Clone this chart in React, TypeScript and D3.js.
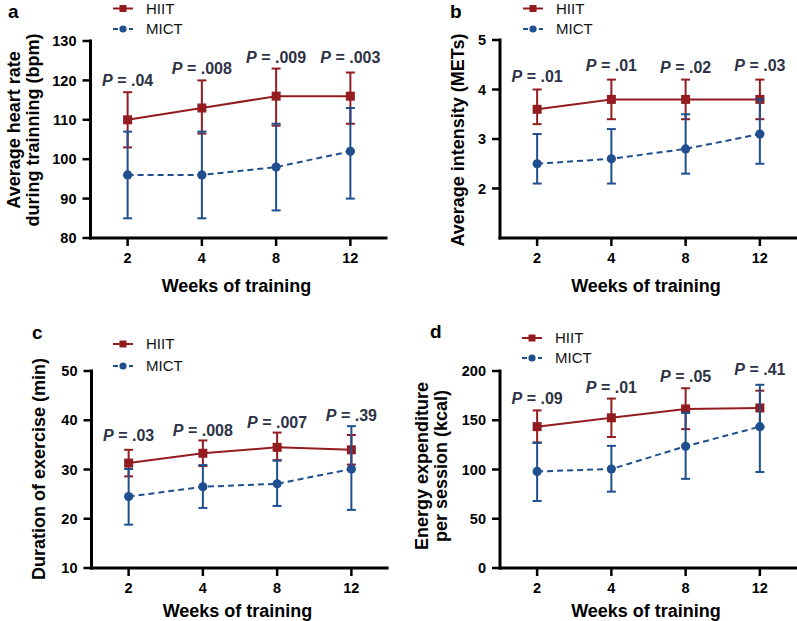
import React from "react";
import * as d3 from "d3";

// ---------- DATA ----------
const weeks = ["2", "4", "8", "12"];
const seriesNames = ["HIIT", "MICT"];

// a: Average heart rate (bpm)
const hrHIIT = [110, 113, 116, 116];
const hrHIITLow = [103, 106.5, 108.5, 109];
const hrHIITHigh = [117, 120, 123, 122];
const hrMICT = [96, 96, 98, 102];
const hrMICTLow = [85, 85, 87, 90];
const hrMICTHigh = [107, 107, 109, 113];
const hrP = ["P = .04", "P = .008", "P = .009", "P = .003"];
const hrPAt = [118.7, 121.6, 124.3, 124.3];
const hrTicks = [80, 90, 100, 110, 120, 130];

// b: Average intensity (METs)
const metHIIT = [3.6, 3.8, 3.8, 3.8];
const metHIITLow = [3.3, 3.4, 3.4, 3.4];
const metHIITHigh = [4.0, 4.2, 4.2, 4.2];
const metMICT = [2.5, 2.6, 2.8, 3.1];
const metMICTLow = [2.1, 2.1, 2.3, 2.5];
const metMICTHigh = [3.1, 3.2, 3.5, 3.8];
const metP = ["P = .01", "P = .01", "P = .02", "P = .03"];
const metPAt = [4.16, 4.38, 4.33, 4.38];
const metTicks = [2, 3, 4, 5];

// c: Duration of exercise (min)
const durHIIT = [31.3, 33.3, 34.5, 34.0];
const durHIITLow = [28.6, 30.7, 31.9, 31.0];
const durHIITHigh = [34.0, 35.9, 37.5, 37.0];
const durMICT = [24.5, 26.5, 27.1, 30.1];
const durMICTLow = [18.8, 22.2, 22.6, 21.8];
const durMICTHigh = [30.1, 30.9, 31.8, 38.8];
const durP = ["P = .03", "P = .008", "P = .007", "P = .39"];
const durPAt = [35.8, 36.8, 38.4, 39.8];
const durTicks = [10, 20, 30, 40, 50];

// d: Energy expenditure per session (kcal)
const eeHIIT = [143.5, 152.5, 161.5, 162.5];
const eeHIITLow = [127.5, 133, 141, 143];
const eeHIITHigh = [160, 172, 182.5, 180];
const eeMICT = [98, 100.5, 123.5, 143.5];
const eeMICTLow = [68, 77.5, 90.5, 97.5];
const eeMICTHigh = [127, 124, 157.5, 186];
const eeP = ["P = .09", "P = .01", "P = .05", "P = .41"];
const eePAt = [167, 178, 188.5, 196];
const eeTicks = [0, 50, 100, 150, 200];

// ---------- STYLE ----------
const RED = "#931c20";
const BLUE = "#1f4f8e";
const PCOL = "#2d3345";
const FONT = "'Liberation Sans', Arial, Helvetica, sans-serif";

type Panel = {
  letter: string;
  ox: number; top: number; bottom: number; width: number;
  domain: [number, number]; ticks: number[];
  hiit: number[]; hiitLow: number[]; hiitHigh: number[];
  mict: number[]; mictLow: number[]; mictHigh: number[];
  pLabels: string[]; pAt: number[];
  yTitle: string[]; yTitleX: number[]; yTitleCy: number;
  xTitleY: number;
  legend: { x: number; y1: number; y2: number };
  label: { x: number; y: number };
};

const panels: Panel[] = [
  {
    letter: "a", ox: 90.5, top: 41, bottom: 238, width: 297,
    domain: [80, 130], ticks: hrTicks,
    hiit: hrHIIT, hiitLow: hrHIITLow, hiitHigh: hrHIITHigh,
    mict: hrMICT, mictLow: hrMICTLow, mictHigh: hrMICTHigh,
    pLabels: hrP, pAt: hrPAt,
    yTitle: ["Average heart rate", "during trainning (bpm)"], yTitleX: [20, 39], yTitleCy: 130,
    xTitleY: 292,
    legend: { x: 113, y1: 8.5, y2: 29 }, label: { x: 8, y: 17.5 },
  },
  {
    letter: "b", ox: 500, top: 40, bottom: 238, width: 297,
    domain: [1, 5], ticks: metTicks,
    hiit: metHIIT, hiitLow: metHIITLow, hiitHigh: metHIITHigh,
    mict: metMICT, mictLow: metMICTLow, mictHigh: metMICTHigh,
    pLabels: metP, pAt: metPAt,
    yTitle: ["Average intensity (METs)"], yTitleX: [464], yTitleCy: 140,
    xTitleY: 292,
    legend: { x: 523, y1: 8.5, y2: 29 }, label: { x: 450, y: 17.5 },
  },
  {
    letter: "c", ox: 91.5, top: 371, bottom: 568, width: 297,
    domain: [10, 50], ticks: durTicks,
    hiit: durHIIT, hiitLow: durHIITLow, hiitHigh: durHIITHigh,
    mict: durMICT, mictLow: durMICTLow, mictHigh: durMICTHigh,
    pLabels: durP, pAt: durPAt,
    yTitle: ["Duration of exercise (min)"], yTitleX: [45], yTitleCy: 469,
    xTitleY: 617,
    legend: { x: 113, y1: 344, y2: 366 }, label: { x: 32, y: 339 },
  },
  {
    letter: "d", ox: 500, top: 371, bottom: 568, width: 297,
    domain: [0, 200], ticks: eeTicks,
    hiit: eeHIIT, hiitLow: eeHIITLow, hiitHigh: eeHIITHigh,
    mict: eeMICT, mictLow: eeMICTLow, mictHigh: eeMICTHigh,
    pLabels: eeP, pAt: eePAt,
    yTitle: ["Energy expenditure", "per session (kcal)"], yTitleX: [428, 447], yTitleCy: 466,
    xTitleY: 617,
    legend: { x: 522, y1: 338, y2: 358 }, label: { x: 430, y: 338 },
  },
];

function Series({ x, y, vals, low, high, color, dashed, square }: any) {
  const line = d3.line<number>().x((_, i) => x(weeks[i])).y((v) => y(v));
  const cap = 4.5;
  return (
    <g>
      {vals.map((_: number, i: number) => {
        const cx = x(weeks[i]);
        return (
          <g key={i} stroke={color} strokeWidth={2}>
            <line x1={cx} x2={cx} y1={y(low[i])} y2={y(high[i])} />
            <line x1={cx - cap} x2={cx + cap} y1={y(low[i])} y2={y(low[i])} />
            <line x1={cx - cap} x2={cx + cap} y1={y(high[i])} y2={y(high[i])} />
          </g>
        );
      })}
      <path d={line(vals) || ""} fill="none" stroke={color} strokeWidth={2}
        strokeDasharray={dashed ? "6,4" : undefined} />
      {vals.map((v: number, i: number) =>
        square ? (
          <rect key={i} x={x(weeks[i]) - 4.5} y={y(v) - 4.5} width={9} height={9} fill={color} />
        ) : (
          <circle key={i} cx={x(weeks[i])} cy={y(v)} r={4.6} fill={color} />
        )
      )}
    </g>
  );
}

function PanelView({ p }: { p: Panel }) {
  const x = d3.scalePoint<string>().domain(weeks).range([p.ox, p.ox + p.width]).padding(0.5);
  const y = d3.scaleLinear().domain(p.domain).range([p.bottom, p.top]);
  const lg = p.legend;
  return (
    <g fontFamily={FONT}>
      <text x={p.label.x} y={p.label.y} fontSize={19} fontWeight="bold">{p.letter}</text>
      {/* legend */}
      <g>
        <line x1={lg.x} x2={lg.x + 20} y1={lg.y1} y2={lg.y1} stroke={RED} strokeWidth={2} />
        <rect x={lg.x + 6.5} y={lg.y1 - 3.5} width={7} height={7} fill={RED} />
        <text x={lg.x + 33} y={lg.y1} dy="0.36em" fontSize={15} fill="#111">{seriesNames[0]}</text>
        <line x1={lg.x} x2={lg.x + 20} y1={lg.y2} y2={lg.y2} stroke={BLUE} strokeWidth={2} strokeDasharray="5,3" />
        <circle cx={lg.x + 10} cy={lg.y2} r={3.6} fill={BLUE} />
        <text x={lg.x + 33} y={lg.y2} dy="0.36em" fontSize={15} fill="#111">{seriesNames[1]}</text>
      </g>
      {/* axes */}
      <g stroke="#000" strokeWidth={3} fill="none">
        <line x1={p.ox} x2={p.ox} y1={p.top - 1.5} y2={p.bottom + 1.5} />
        <line x1={p.ox - 1.5} x2={p.ox + p.width} y1={p.bottom} y2={p.bottom} />
        {p.ticks.map((t) => (
          <line key={t} x1={p.ox - 8} x2={p.ox} y1={y(t)} y2={y(t)} strokeWidth={2.5} />
        ))}
        {weeks.map((w) => (
          <line key={w} x1={x(w)} x2={x(w)} y1={p.bottom} y2={p.bottom + 8} strokeWidth={2.5} />
        ))}
      </g>
      {p.ticks.map((t) => (
        <text key={t} x={p.ox - 14} y={y(t)} dy="0.36em" textAnchor="end" fontSize={14.5} fontWeight="bold">{t}</text>
      ))}
      {weeks.map((w) => (
        <text key={w} x={x(w)} y={p.bottom + 25} textAnchor="middle" fontSize={14.5} fontWeight="bold">{w}</text>
      ))}
      <text x={p.ox + 146} y={p.xTitleY} textAnchor="middle" fontSize={18} fontWeight="bold">Weeks of training</text>
      {p.yTitle.map((t, i) => (
        <text key={i} transform={`translate(${p.yTitleX[i]},${p.yTitleCy}) rotate(-90)`} textAnchor="middle"
          fontSize={18} fontWeight="bold">{t}</text>
      ))}
      {/* series */}
      <Series x={x} y={y} vals={p.hiit} low={p.hiitLow} high={p.hiitHigh} color={RED} square />
      <Series x={x} y={y} vals={p.mict} low={p.mictLow} high={p.mictHigh} color={BLUE} dashed />
      {/* P labels */}
      {p.pLabels.map((s, i) => (
        <text key={i} x={x(weeks[i])} y={y(p.pAt[i])} textAnchor="middle" fontSize={16} fontWeight="bold" fill={PCOL}>
          <tspan fontStyle="italic">{s.slice(0, 1)}</tspan>
          <tspan>{s.slice(1)}</tspan>
        </text>
      ))}
    </g>
  );
}

export default function App() {
  return (
    <svg width={797} height={621} style={{ position: "absolute", left: 0, top: 0, background: "#fff" }}>
      <rect width={797} height={621} fill="#fff" />
      {panels.map((p) => (
        <PanelView key={p.letter} p={p} />
      ))}
    </svg>
  );
}
